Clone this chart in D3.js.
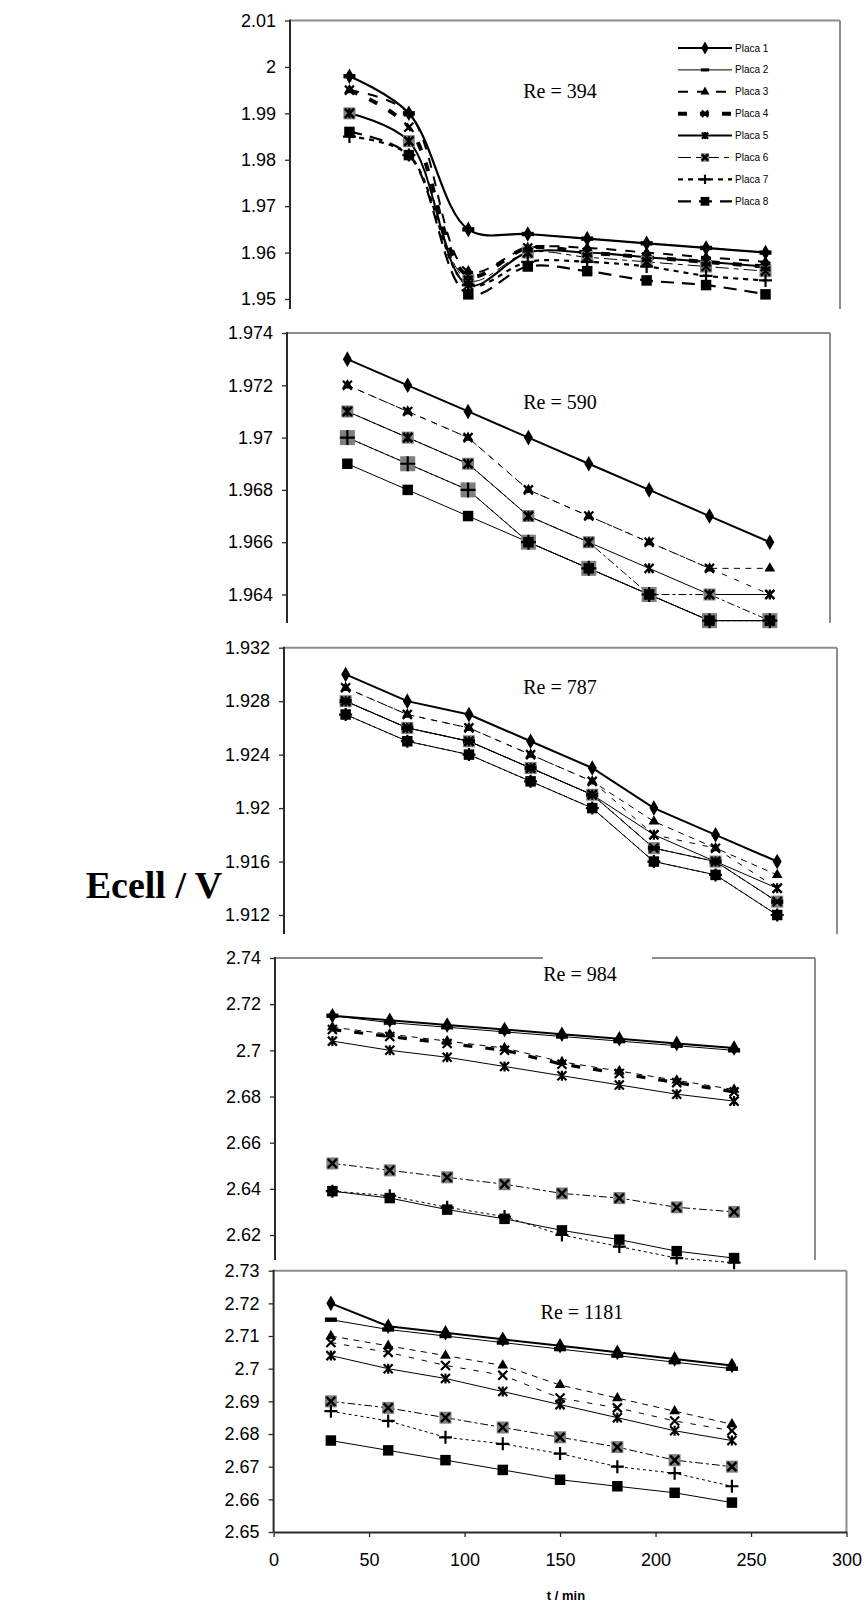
<!DOCTYPE html>
<html>
<head>
<meta charset="utf-8">
<script src="https://cdn.jsdelivr.net/npm/d3@7"></script>
<style>
  body { margin: 0; background: #fff; }
  svg text { font-family: Arial, "Liberation Sans", sans-serif; fill: #000; }
  .retitle, .ylab { font-family: "Times New Roman", "Liberation Serif", serif; }
</style>
</head>
<body>
<svg id="chart" width="867" height="1607"></svg>
<script>
// ---- data ----
const times = [30, 60, 90, 120, 150, 180, 210, 240];
const placas = ["Placa 1", "Placa 2", "Placa 3", "Placa 4", "Placa 5", "Placa 6", "Placa 7", "Placa 8"];
const reTitles = ["Re = 394", "Re = 590", "Re = 787", "Re = 984", "Re = 1181"];

// one row per placa (1..8), one value per time
const re394 = [
  [1.998, 1.990, 1.965, 1.964, 1.963, 1.962, 1.961, 1.960],
  [1.998, 1.990, 1.965, 1.964, 1.963, 1.962, 1.961, 1.960],
  [1.995, 1.990, 1.956, 1.961, 1.961, 1.960, 1.959, 1.958],
  [1.995, 1.987, 1.955, 1.961, 1.960, 1.959, 1.958, 1.957],
  [1.990, 1.984, 1.953, 1.960, 1.960, 1.959, 1.958, 1.957],
  [1.990, 1.984, 1.954, 1.960, 1.959, 1.958, 1.957, 1.956],
  [1.985, 1.981, 1.953, 1.958, 1.958, 1.957, 1.955, 1.954],
  [1.986, 1.981, 1.951, 1.957, 1.956, 1.954, 1.953, 1.951]
];
const re590 = [
  [1.973, 1.972, 1.971, 1.970, 1.969, 1.968, 1.967, 1.966],
  [1.970, 1.969, 1.968, 1.966, 1.965, 1.964, 1.963, 1.963],
  [1.972, 1.971, 1.970, 1.968, 1.967, 1.966, 1.965, 1.965],
  [1.972, 1.971, 1.970, 1.968, 1.967, 1.966, 1.965, 1.964],
  [1.971, 1.970, 1.969, 1.967, 1.966, 1.965, 1.964, 1.964],
  [1.971, 1.970, 1.969, 1.967, 1.966, 1.964, 1.964, 1.963],
  [1.970, 1.969, 1.968, 1.966, 1.965, 1.964, 1.963, 1.963],
  [1.969, 1.968, 1.967, 1.966, 1.965, 1.964, 1.963, 1.963]
];
const re787 = [
  [1.930, 1.928, 1.927, 1.925, 1.923, 1.920, 1.918, 1.916],
  [1.928, 1.926, 1.925, 1.923, 1.921, 1.917, 1.916, 1.913],
  [1.929, 1.927, 1.926, 1.924, 1.922, 1.919, 1.917, 1.915],
  [1.929, 1.927, 1.926, 1.924, 1.922, 1.918, 1.917, 1.914],
  [1.928, 1.926, 1.925, 1.923, 1.921, 1.918, 1.916, 1.914],
  [1.928, 1.926, 1.925, 1.923, 1.921, 1.917, 1.916, 1.913],
  [1.927, 1.925, 1.924, 1.922, 1.920, 1.916, 1.915, 1.912],
  [1.927, 1.925, 1.924, 1.922, 1.920, 1.916, 1.915, 1.912]
];
const re984 = [
  [2.715, 2.713, 2.711, 2.709, 2.707, 2.705, 2.703, 2.701],
  [2.715, 2.712, 2.710, 2.708, 2.706, 2.704, 2.702, 2.700],
  [2.710, 2.707, 2.704, 2.701, 2.695, 2.691, 2.687, 2.683],
  [2.709, 2.706, 2.703, 2.700, 2.694, 2.690, 2.686, 2.682],
  [2.704, 2.700, 2.697, 2.693, 2.689, 2.685, 2.681, 2.678],
  [2.651, 2.648, 2.645, 2.642, 2.638, 2.636, 2.632, 2.630],
  [2.639, 2.637, 2.632, 2.628, 2.620, 2.615, 2.610, 2.608],
  [2.639, 2.636, 2.631, 2.627, 2.622, 2.618, 2.613, 2.610]
];
const re1181 = [
  [2.720, 2.713, 2.711, 2.709, 2.707, 2.705, 2.703, 2.701],
  [2.715, 2.712, 2.710, 2.708, 2.706, 2.704, 2.702, 2.700],
  [2.710, 2.707, 2.704, 2.701, 2.695, 2.691, 2.687, 2.683],
  [2.708, 2.705, 2.701, 2.698, 2.691, 2.688, 2.684, 2.681],
  [2.704, 2.700, 2.697, 2.693, 2.689, 2.685, 2.681, 2.678],
  [2.690, 2.688, 2.685, 2.682, 2.679, 2.676, 2.672, 2.670],
  [2.687, 2.684, 2.679, 2.677, 2.674, 2.670, 2.668, 2.664],
  [2.678, 2.675, 2.672, 2.669, 2.666, 2.664, 2.662, 2.659]
];

const ticks394 = [1.95, 1.96, 1.97, 1.98, 1.99, 2, 2.01];
const ticks590 = [1.964, 1.966, 1.968, 1.97, 1.972, 1.974];
const ticks787 = [1.912, 1.916, 1.92, 1.924, 1.928, 1.932];
const ticks984 = [2.62, 2.64, 2.66, 2.68, 2.7, 2.72, 2.74];
const ticks1181 = [2.65, 2.66, 2.67, 2.68, 2.69, 2.7, 2.71, 2.72, 2.73];
const xTicks = [0, 50, 100, 150, 200, 250, 300];

// ---- styles ----
const lineStyles = [
  { w: 2.2, dash: null },
  { w: 1, dash: null },
  { w: 2, dash: "10,9" },
  { w: 4, dash: "9,13" },
  { w: 2, dash: null },
  { w: 1, dash: "13,5,5,5" },
  { w: 2.2, dash: "5,5" },
  { w: 2.2, dash: "13,8" }
];
const markers = ["diamond", "bar", "triangle", "x", "asterisk", "grayx", "plus", "square"];
const markers590 = ["diamond", "none", "triangle", "x", "asterisk", "grayx", "grayplus", "square"];
// marker drawing order (last one ends on top)
const drawOrder = [7, 6, 5, 4, 2, 3, 1, 0];

// each stacked chart has its own frame (the figure is a montage of 5 charts)
const panels = [
  { title: reTitles[0], values: re394, ticks: ticks394, marks: markers, left: 290, right: 840, xMax: 277.6,
    top: 20.5, bottom: 299, axisEnd: 309, tx: 560, ty: 98, smooth: true, thin: false },
  { title: reTitles[1], values: re590, ticks: ticks590, marks: markers590, left: 287, right: 830, xMax: 269.9,
    top: 333, bottom: 594.5, axisEnd: 623, tx: 560, ty: 409, smooth: false, thin: true },
  { title: reTitles[2], values: re787, ticks: ticks787, marks: markers, left: 284, right: 837, xMax: 269.1,
    top: 647.7, bottom: 915, axisEnd: 934, tx: 560, ty: 694, smooth: false, thin: true },
  { title: reTitles[3], values: re984, ticks: ticks984, marks: markers, left: 275, right: 815, xMax: 282.3,
    top: 958, bottom: 1235, axisEnd: 1260, tx: 580, ty: 981, smooth: false, thin: true, gap: [543, 652], heavy4: true },
  { title: reTitles[4], values: re1181, ticks: ticks1181, marks: markers, left: 273.6, right: 846.5, xMax: 300,
    top: 1270.7, bottom: 1532, axisEnd: 1532, tx: 582, ty: 1319, smooth: false, thin: true, xAxis: true }
];

const svg = d3.select("#chart");
const frameColor = "#8c8c8c";
const axisColor = "#2a2a2a";

// gray backgrounds go to bg, black shapes to fg
function drawMarker(bg, fg, type, cx, cy, s) {
  const t = `translate(${cx},${cy})`;
  const sym = (shape, size) => d3.symbol().type(shape).size(size)();
  const xPath = r => `M${-r},${-r}L${r},${r}M${-r},${r}L${r},${-r}`;
  const plusPath = r => `M${-r},0L${r},0M0,${-r}L0,${r}`;
  const stroke = (d, w) => fg.append("path").attr("transform", t).attr("d", d)
    .attr("stroke", "#000").attr("stroke-width", w).attr("fill", "none");
  const graySq = h => bg.append("rect").attr("transform", t).attr("x", -h).attr("y", -h)
    .attr("width", 2 * h).attr("height", 2 * h).attr("fill", "#7f7f7f");
  if (type === "diamond") {
    fg.append("path").attr("transform", t).attr("d", sym(d3.symbolDiamond, 70 * s)).attr("fill", "#000");
  } else if (type === "bar") {
    fg.append("rect").attr("transform", t).attr("x", -6 * s).attr("y", -2.2 * s)
      .attr("width", 12 * s).attr("height", 4.4 * s).attr("fill", "#000");
  } else if (type === "triangle") {
    fg.append("path").attr("transform", t).attr("d", sym(d3.symbolTriangle, 50 * s)).attr("fill", "#000");
  } else if (type === "x") {
    stroke(xPath(4.5 * s), 2.2);
  } else if (type === "asterisk") {
    stroke(xPath(4.5 * s) + `M0,${-5 * s}L0,${5 * s}`, 2.2);
  } else if (type === "grayx") {
    graySq(6 * s);
    stroke(xPath(4.5 * s), 2.4);
  } else if (type === "plus") {
    stroke(plusPath(6.5 * s), 2.2);
  } else if (type === "grayplus") {
    graySq(7.5 * s);
    stroke(plusPath(7.5 * s), 2.2);
  } else if (type === "square") {
    fg.append("path").attr("transform", t).attr("d", sym(d3.symbolSquare, 110 * s)).attr("fill", "#000");
  }
}

panels.forEach(p => {
  const x = d3.scaleLinear().domain([0, p.xMax]).range([p.left, p.right]);
  const y = d3.scaleLinear().domain([p.ticks[0], p.ticks[p.ticks.length - 1]]).range([p.bottom, p.top]);
  const g = svg.append("g");

  // gray frame: top edge (with a hole for the title in Re = 984) and right edge
  const frame = g.append("g").attr("stroke", frameColor).attr("stroke-width", 2).attr("fill", "none");
  if (p.gap) {
    frame.append("line").attr("x1", p.left).attr("x2", p.gap[0]).attr("y1", p.top).attr("y2", p.top);
    frame.append("line").attr("x1", p.gap[1]).attr("x2", p.right).attr("y1", p.top).attr("y2", p.top);
  } else {
    frame.append("line").attr("x1", p.left).attr("x2", p.right).attr("y1", p.top).attr("y2", p.top);
  }
  frame.append("line").attr("x1", p.right).attr("x2", p.right).attr("y1", p.top).attr("y2", p.axisEnd);

  // y axis
  const ya = g.append("g")
    .attr("transform", `translate(${p.left},0)`)
    .call(d3.axisLeft(y).tickValues(p.ticks).tickSize(5).tickPadding(9).tickFormat(d => String(+d.toFixed(3))));
  ya.select(".domain").remove();
  ya.selectAll("line").attr("stroke", axisColor).attr("stroke-width", 1.3);
  ya.selectAll("text").style("font-size", "18px").attr("fill", "#000");
  g.append("line").attr("x1", p.left).attr("x2", p.left).attr("y1", p.top - 1).attr("y2", p.axisEnd)
    .attr("stroke", axisColor).attr("stroke-width", 2);

  if (p.xAxis) {
    const xa = g.append("g")
      .attr("transform", `translate(0,${p.bottom})`)
      .call(d3.axisBottom(x).tickValues(xTicks).tickSize(5).tickPadding(16).tickSizeOuter(0));
    xa.select(".domain").attr("stroke", axisColor).attr("stroke-width", 2);
    xa.selectAll("line").attr("stroke", axisColor).attr("stroke-width", 1.3);
    xa.selectAll("text").style("font-size", "18px").attr("fill", "#000");
    g.append("text").attr("x", 566).attr("y", 1600).attr("text-anchor", "middle")
      .style("font-size", "13px").style("font-weight", "bold").text("t / min");
  }

  const line = d3.line()
    .x((d, i) => x(times[i]))
    .y(d => y(d))
    .curve(p.smooth ? d3.curveCatmullRom.alpha(0.5) : d3.curveLinear);

  // lines, placa 8 first so placa 1 ends on top
  for (let i = p.values.length - 1; i >= 0; i--) {
    const st = lineStyles[i];
    let w = st.w;
    let dash = st.dash;
    if (p.thin) {
      // the later charts use thin lines; placa 8 is plain solid there
      const heavy = i === 3 && p.heavy4;
      w = (i === 0) ? 2 : heavy ? 3.2 : 1;
      if (i === 7) dash = null;
      else if (dash && !heavy) dash = dash.split(",").map(v => v * 0.6).join(",");
    }
    g.append("path")
      .datum(p.values[i])
      .attr("d", line)
      .attr("fill", "none")
      .attr("stroke", "#000")
      .attr("stroke-width", w)
      .attr("stroke-dasharray", dash);
  }
  const bg = g.append("g");
  const fg = g.append("g");
  drawOrder.forEach(i => {
    p.values[i].forEach((v, k) => drawMarker(bg, fg, p.marks[i], x(times[k]), y(v), 1));
  });

  g.append("text").attr("class", "retitle").attr("x", p.tx).attr("y", p.ty)
    .attr("text-anchor", "middle").style("font-size", "20px").text(p.title);
});

// legend of the first chart
const lg = svg.append("g").attr("transform", "translate(678,48)");
placas.forEach((name, i) => {
  const row = lg.append("g").attr("transform", `translate(0,${i * 21.9})`);
  const st = lineStyles[i];
  row.append("line").attr("x1", 0).attr("x2", 54).attr("y1", 0).attr("y2", 0)
    .attr("stroke", "#000").attr("stroke-width", st.w).attr("stroke-dasharray", st.dash);
  const rbg = row.append("g");
  drawMarker(rbg, row.append("g"), markers[i], 27, 0, 0.7);
  row.append("text").attr("x", 57).attr("y", 3.5).style("font-size", "10px").text(name);
});

// shared y label
svg.append("text").attr("class", "ylab").attr("x", 154).attr("y", 898)
  .attr("text-anchor", "middle").style("font-size", "38px").style("font-weight", "bold").text("Ecell / V");
</script>
</body>
</html>
